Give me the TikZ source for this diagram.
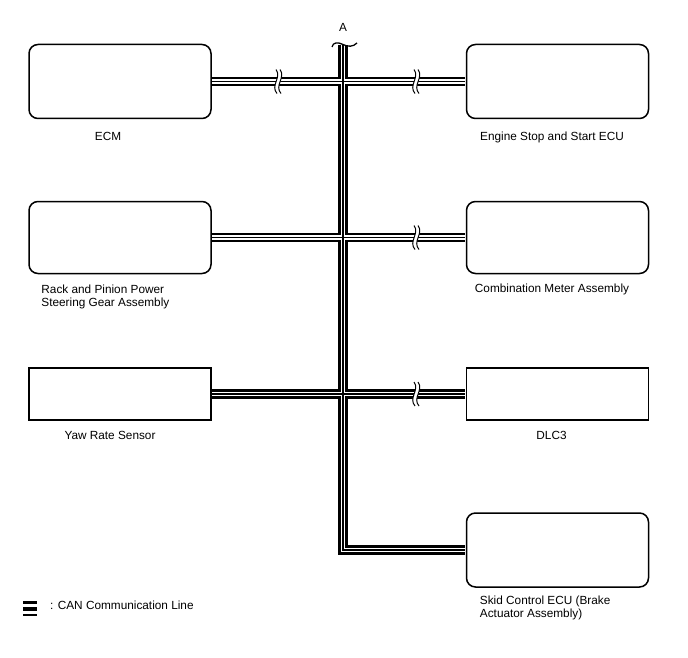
\documentclass[tikz,border=0pt]{standalone}
\usepackage{fontspec}
\setmainfont{Liberation Sans}
\usepackage{tikz}
\usetikzlibrary{positioning}

\begin{document}
\begin{tikzpicture}[x=1pt,y=-1pt]
  \tikzset{
    unit/.style={draw,line width=1.5pt,fill=white,minimum width=182pt,
                 minimum height=74pt,rounded corners=9pt,inner sep=0pt},
    flat/.style={unit,rounded corners=0pt,minimum height=52pt},
    txt/.style={font=\fontsize{11.8}{13.2}\selectfont,inner sep=0pt,align=left},
    lab/.style={txt,text height=8.5pt,text depth=2.5pt},
    brk/.pic={
      \fill[white] (-3,-12) .. controls (3,-4) and (-9,4) .. (-2,12)
                   -- (2,12) .. controls (-5,4) and (7,-4) .. (1,-12) -- cycle;
      \draw[line width=1pt] (-3,-12) .. controls (3,-4) and (-9,4) .. (-2,12)
                            (1,-12) .. controls (7,-4) and (-5,4) .. (2,12);
    }
  }
  \useasboundingbox (0,0) rectangle (688,658);

  % units
  \node[unit] (ecm) at (120,81.5) {};
  \node[unit] (ess) at (557.5,81.5) {};
  \node[unit,minimum height=72pt] (rack) at (120,237.5) {};
  \node[unit,minimum height=72pt] (meter) at (557.5,237.5) {};
  \node[flat] (yaw) at (120,394) {};
  \node[flat] (dlc) at (557.5,394) {};
  \node[unit] (skid) at (557.5,550) {};

  \node[lab,below=13pt of ecm,xshift=-12pt] (ecmlab) {ECM};
  \node[lab,below=13pt of ess,xshift=-5.5pt] (esslab) {Engine Stop and Start ECU};
  \node[txt,below=10pt of rack.south west,anchor=north west,xshift=13pt] (racklab)
    {Rack and Pinion Power\\Steering Gear Assembly};
  \node[lab,below=10pt of meter,xshift=-5.5pt] (meterlab) {Combination Meter Assembly};
  \node[lab,below=10.5pt of yaw,xshift=-10pt] (yawlab) {Yaw Rate Sensor};
  \node[lab,below=10.5pt of dlc,xshift=-6pt] (dlclab) {DLC3};
  \node[txt,below=8pt of skid.south west,anchor=north west,xshift=14pt] (skidlab)
    {Skid Control ECU (Brake\\Actuator Assembly)};

  % CAN bus
  \coordinate (top) at (343,45);
  \node[lab] (A) at (343,29) {A};
  \foreach \lw/\col in {9.5/black,4.8/white,1.2/black}{
    \draw[line width=\lw pt,\col] (top) |- ([xshift=-.7pt]skid.west);
    \foreach \a/\b in {ecm/ess,rack/meter,yaw/dlc}
      \draw[line width=\lw pt,\col] ([xshift=.7pt]\a.east) -- ([xshift=-.7pt]\b.west);
  }
  \draw[line width=1.3pt] (332,47) .. controls (333,42) and (338,42) .. (343,44.5)
    .. controls (348,47) and (353,47) .. (357,43);

  \pic at (279,81.5) {brk};
  \pic at (417,81.5) {brk};
  \pic at (417,237.5) {brk};
  \pic at (417,394) {brk};

  % legend
  \fill (23,600.5) rectangle (37,604);
  \fill (23,607) rectangle (37,610.5);
  \fill (23,613.5) rectangle (37,615.5);
  \node[lab,anchor=west] (legend) at (50,606.5) {: CAN Communication Line};
\end{tikzpicture}
\end{document}
